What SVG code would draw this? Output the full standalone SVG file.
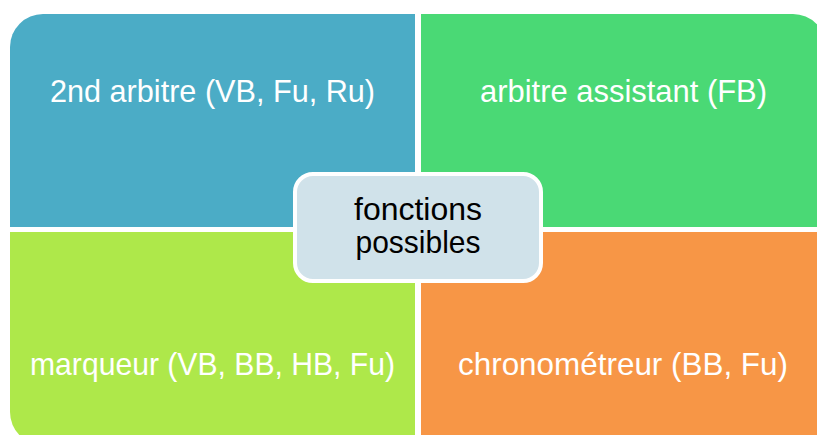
<svg xmlns="http://www.w3.org/2000/svg" width="817" height="435" viewBox="0 0 817 435">
  <style>
    .q { stroke: none; }
    .lbl { font-family: "Liberation Sans", Arial, sans-serif; font-size: 32px; fill: #ffffff; text-anchor: middle; }
    .ctr { font-family: "Liberation Sans", Arial, sans-serif; font-size: 32px; fill: #000000; text-anchor: middle; }
  </style>
  <rect width="817" height="435" fill="#ffffff"/>
  <g id="node-tl">
    <path class="q" fill="#4BACC6" d="M10,227 V47 A33,33 0 0 1 43,14 H415 V227 Z"/>
    <text class="lbl" x="212.5" y="102" textLength="325" lengthAdjust="spacingAndGlyphs">2nd arbitre (VB, Fu, Ru)</text>
  </g>
  <g id="node-tr">
    <path class="q" fill="#4AD975" d="M421,14 H793 A33,33 0 0 1 826,47 V227 H421 Z"/>
    <text class="lbl" x="623.5" y="102" textLength="287" lengthAdjust="spacingAndGlyphs">arbitre assistant (FB)</text>
  </g>
  <g id="node-bl">
    <path class="q" fill="#AEE84A" d="M10,232 H415 V445 H43 A33,33 0 0 1 10,412 Z"/>
    <text class="lbl" x="212.5" y="375" textLength="365" lengthAdjust="spacingAndGlyphs">marqueur (VB, BB, HB, Fu)</text>
  </g>
  <g id="node-br">
    <path class="q" fill="#F79646" d="M421,232 H830 V412 A33,33 0 0 1 797,445 H421 Z"/>
    <text class="lbl" x="623" y="375" textLength="330" lengthAdjust="spacingAndGlyphs">chronométreur (BB, Fu)</text>
  </g>
  <g id="connectors"></g>
  <g id="node-center">
    <rect x="295" y="174" width="246" height="107" rx="18" ry="18" fill="#D0E2EA" stroke="#ffffff" stroke-width="4"/>
    <text class="ctr" x="418" y="220" textLength="128" lengthAdjust="spacingAndGlyphs">fonctions</text>
    <text class="ctr" x="418" y="253" textLength="125" lengthAdjust="spacingAndGlyphs">possibles</text>
  </g>
</svg>
